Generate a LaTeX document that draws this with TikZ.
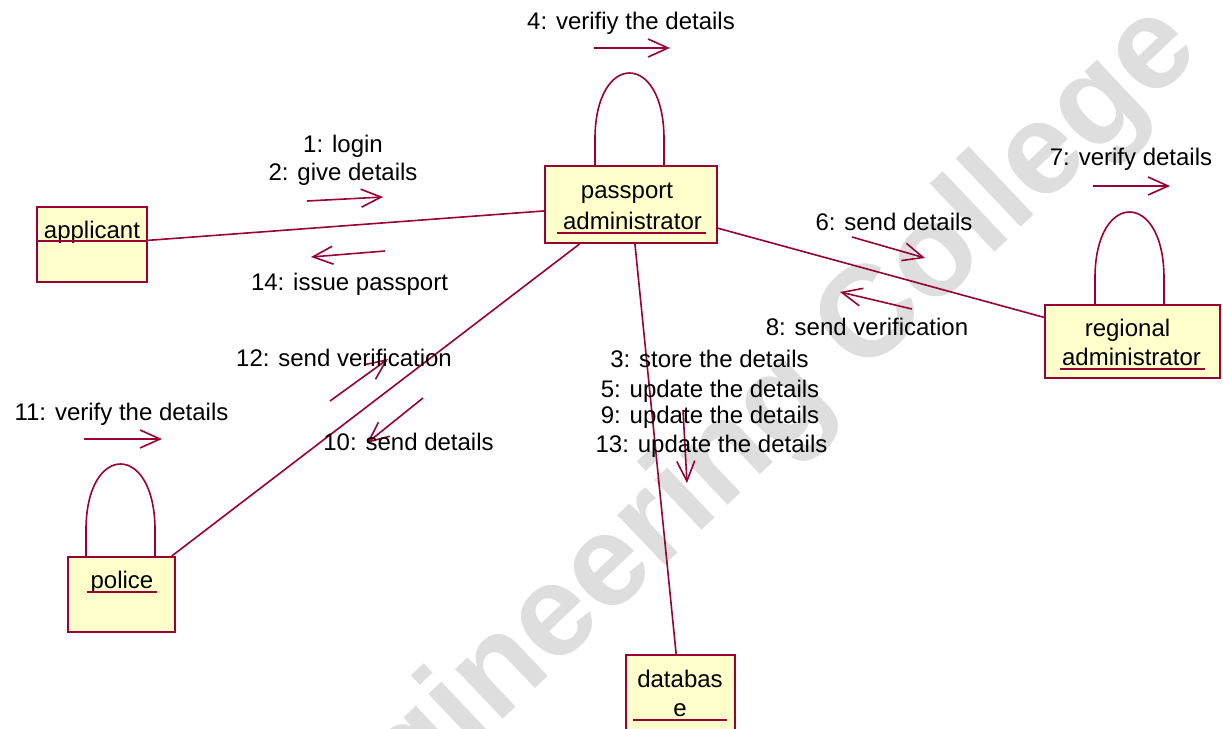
\documentclass[tikz,border=0pt]{standalone}
\usepackage{fontspec}
\setmainfont{Liberation Sans}
\usetikzlibrary{arrows.meta,calc}
\definecolor{umlred}{HTML}{990033}
\definecolor{umlfill}{HTML}{FFFFCC}
\definecolor{wm}{RGB}{222,222,222}
\tikzset{
 box/.style={draw=umlred, fill=umlfill, line width=1pt, inner sep=0pt},
 conn/.style={draw=umlred, line width=0.8pt},
 msg/.style={draw=umlred, line width=0.8pt, -{Straight Barb[length=10pt,width=9pt]}},
 lbl/.style={inner sep=0pt, anchor=base, font=\fontsize{12}{14}\selectfont, text=black},
 uline/.style={draw=umlred, line width=0.9pt},
}
\newcommand{\myloop}[3]{% node, left offset, right offset (px)
  \coordinate (#1L) at ($(#1.north west)+(#2,0)$);
  \coordinate (#1R) at ($(#1.north west)+(#3,0)$);
  \draw[conn] (#1L) -- ($(#1L)+(0,-26)$) .. controls ($(#1L)+(0,-114)$) and ($(#1R)+(0,-114)$) .. ($(#1R)+(0,-26)$) -- (#1R);
}
\begin{document}
\begin{tikzpicture}[x=0.5pt,y=-0.5pt]
\useasboundingbox (0,0) rectangle (1223,729);
\begin{scope}
\clip (0,0) rectangle (1223,729);
\fill[white] (0,0) rectangle (1223,729);
\node[rotate=43.5, anchor=mid east, text=wm, font=\fontsize{65}{70}\selectfont\bfseries, inner sep=0pt] (wmark) at (1200,50) {Engineering College};
\end{scope}

% boxes
\node[box, minimum width=55pt, minimum height=37.5pt] (app) at (92,244.5) {};
\node[box, minimum width=86pt, minimum height=38.5pt] (pa) at (631,204.5) {};
\node[box, minimum width=87.5pt, minimum height=36.5pt] (ra) at (1132.5,341.5) {};
\node[box, minimum width=53.5pt, minimum height=37.5pt] (pol) at (121.5,594.5) {};
\node[box, minimum width=54.5pt, minimum height=42.5pt] (db) at (680.5,697.5) {};

% box texts
\node[lbl] (appt) at (92,238) {applicant};
\draw[uline] (app.west |- 0,241) -- (app.east |- 0,241);
\node[lbl] (pat1) at (627,198) {passport};
\node[lbl] (pat2) at (632.5,229) {administrator};
\draw[uline] (557,233) -- (706,233);
\node[lbl] (rat1) at (1127.5,336) {regional};
\node[lbl] (rat2) at (1131.5,365) {administrator};
\draw[uline] (1060,369) -- (1205,369);
\node[lbl] (polt) at (122,588) {police};
\draw[uline] (87,592) -- (157,592);
\node[lbl] (dbt1) at (680,687) {databas};
\node[lbl] (dbt2) at (680,716) {e};
\draw[uline] (633,720) -- (727,720);

% links
\draw[conn] (app) -- (pa);
\draw[conn] (pa) -- (ra);
\draw[conn] (pa) -- (pol);
\draw[conn] (pa) -- (db);

% self loops
\myloop{pa}{51}{120}
\myloop{ra}{51}{120}
\myloop{pol}{19}{88}

% message arrows
\coordinate (a1s) at (307,201); \coordinate (a1e) at (383,197);
\coordinate (a14s) at (385,251); \coordinate (a14e) at (311,257);
\coordinate (a4s) at (594,48); \coordinate (a4e) at (670,48);
\coordinate (a7s) at (1093,186); \coordinate (a7e) at (1170,186);
\coordinate (a6s) at (852,237); \coordinate (a6e) at (925,258);
\coordinate (a8s) at (912,309); \coordinate (a8e) at (840,292);
\coordinate (a12s) at (330,401); \coordinate (a12e) at (388,359);
\coordinate (a10s) at (423,398); \coordinate (a10e) at (367,443);
\coordinate (a11s) at (84,439); \coordinate (a11e) at (162,439);
\coordinate (a3s) at (683,410); \coordinate (a3e) at (687,483);
\draw[msg] (a1s) -- (a1e);
\draw[msg] (a14s) -- (a14e);
\draw[msg] (a4s) -- (a4e);
\draw[msg] (a7s) -- (a7e);
\draw[msg] (a6s) -- (a6e);
\draw[msg] (a8s) -- (a8e);
\draw[msg] (a12s) -- (a12e);
\draw[msg] (a10s) -- (a10e);
\draw[msg] (a11s) -- (a11e);
\draw[msg] (a3s) -- (a3e);

% message labels
\node[lbl] (l1) at (343,152) {1: login};
\node[lbl] (l2) at (343,180) {2: give details};
\node[lbl] (l14) at (349.5,290) {14: issue passport};
\node[lbl] (l4) at (631,29) {4: verifiy the details};
\node[lbl] (l7) at (1131,165) {7: verify details};
\node[lbl] (l6) at (894,230) {6: send details};
\node[lbl] (l8) at (867,335) {8: send verification};
\node[lbl] (l12) at (344,366) {12: send verification};
\node[lbl] (l11) at (121.5,420) {11: verify the details};
\node[lbl] (l10) at (408.5,450) {10: send details};
\node[lbl] (l3) at (709.5,367) {3: store the details};
\node[lbl] (l5) at (710,397) {5: update the details};
\node[lbl] (l9) at (710,423) {9: update the details};
\node[lbl] (l13) at (711.5,452) {13: update the details};
\end{tikzpicture}
\end{document}
